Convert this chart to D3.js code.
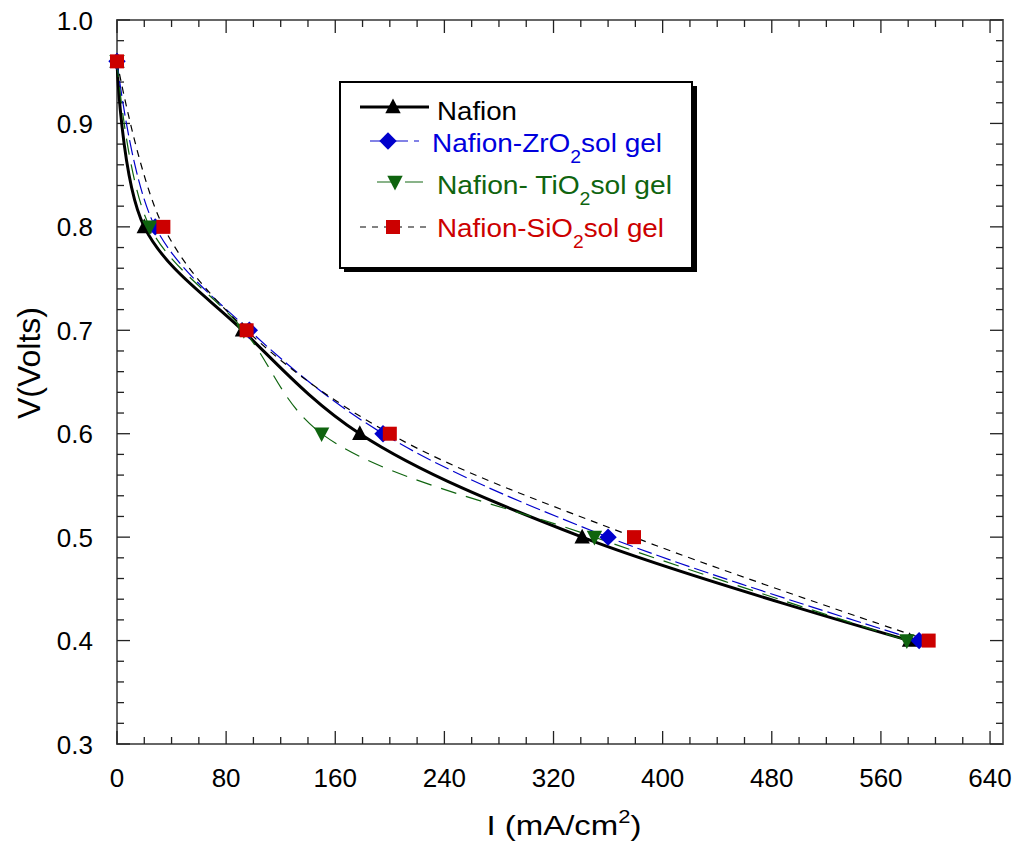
<!DOCTYPE html>
<html>
<head>
<meta charset="utf-8">
<script src="https://cdn.jsdelivr.net/npm/d3@7"></script>
<style>
  html, body { margin: 0; padding: 0; background: #fff; }
  svg { display: block; font-family: "Liberation Sans", Arial, sans-serif; }
</style>
</head>
<body>
<svg id="chart" width="1017" height="842"></svg>
<script>
// Polarization curves: cell voltage vs current density
const voltage = [0.96, 0.8, 0.7, 0.6, 0.5, 0.4];
const nafionI = [0, 20, 92, 178, 341, 581];
const zro2I   = [0, 28, 97, 195, 360, 588];
const tio2I   = [0, 24, 93, 150, 350, 579];
const sio2I   = [0, 34, 95, 200, 379, 595];

const xTicks = [0, 80, 160, 240, 320, 400, 480, 560, 640];
const yTicks = [0.3, 0.4, 0.5, 0.6, 0.7, 0.8, 0.9, 1.0];

const series = [
  { name: "Nafion", sub: null, I: nafionI, color: "#000000", text: "#000000",
    width: 3, dash: null, legendDash: null, marker: "triangle" },
  { name: "Nafion-ZrO", sub: "sol gel", I: zro2I, color: "#0000cc", text: "#0000dd",
    width: 1.2, dash: "15,5", legendDash: "16,6", marker: "diamond" },
  { name: "Nafion- TiO", sub: "sol gel", I: tio2I, color: "#0f640f", text: "#0f640f",
    width: 1.2, dash: "16,10", legendDash: "18,10", marker: "triangleDown" },
  { name: "Nafion-SiO", sub: "sol gel", I: sio2I, color: "#000000", text: "#cc0000",
    width: 1.2, dash: "7,6", legendDash: "6,6", marker: "square", markerColor: "#cc0000" }
];

const svg = d3.select("#chart");
const pLeft = 117, pRight = 1003, pTop = 20, pBottom = 744;

const x = d3.scaleLinear().domain([0, 649.5]).range([pLeft, pRight]);
const y = d3.scaleLinear().domain([0.3, 1.0]).range([pBottom, pTop]);

const axisColor = "#666";

// frame
svg.append("rect")
  .attr("x", pLeft).attr("y", pTop)
  .attr("width", pRight - pLeft).attr("height", pBottom - pTop)
  .attr("fill", "none").attr("stroke", axisColor).attr("stroke-width", 2);

// ticks (inward on all four sides)
const xMinor = d3.range(0, 641, 20);
const yMinor = d3.range(0, 36).map(i => +(0.3 + i * 0.02).toFixed(2));
const tickG = svg.append("g").attr("stroke", "#222").attr("stroke-width", 1.3);
xMinor.forEach(v => {
  const major = v % 80 === 0;
  const len = major ? 13 : 7;
  tickG.append("line").attr("x1", x(v)).attr("x2", x(v)).attr("y1", pBottom).attr("y2", pBottom - len);
  tickG.append("line").attr("x1", x(v)).attr("x2", x(v)).attr("y1", pTop).attr("y2", pTop + len);
});
yMinor.forEach(v => {
  const major = Math.abs(v * 10 - Math.round(v * 10)) < 1e-6;
  const len = major ? 13 : 7;
  tickG.append("line").attr("x1", pLeft).attr("x2", pLeft + len).attr("y1", y(v)).attr("y2", y(v));
  tickG.append("line").attr("x1", pRight).attr("x2", pRight - len).attr("y1", y(v)).attr("y2", y(v));
});

// tick labels
svg.append("g").selectAll("text").data(xTicks).join("text")
  .attr("x", d => x(d)).attr("y", 787)
  .attr("text-anchor", "middle").attr("font-size", 26).attr("fill", "#000")
  .text(d => d);
svg.append("g").selectAll("text").data(yTicks).join("text")
  .attr("x", 93).attr("y", d => y(d) + 9.5)
  .attr("text-anchor", "end").attr("font-size", 26).attr("fill", "#000")
  .text(d => d.toFixed(1));

// axis titles
const xt = svg.append("text")
  .attr("transform", "translate(564,835) scale(1.22,1)")
  .attr("text-anchor", "middle").attr("font-size", 27).attr("fill", "#000");
xt.append("tspan").text("I (mA/cm");
xt.append("tspan").attr("dy", -12).attr("font-size", 18).text("2");
xt.append("tspan").attr("dy", 12).text(")");

svg.append("text")
  .attr("transform", "translate(40,363) rotate(-90)")
  .attr("text-anchor", "middle").attr("font-size", 32).attr("fill", "#000")
  .text("V(Volts)");

// markers
function drawMarker(g, type, cx, cy, color, s) {
  if (type === "square") {
    g.append("rect").attr("x", cx - s / 2).attr("y", cy - s / 2)
      .attr("width", s).attr("height", s).attr("fill", color);
  } else if (type === "triangle") {
    const h = s;
    g.append("path").attr("d", `M${cx},${cy - h * 0.6}L${cx + s * 0.55},${cy + h * 0.45}L${cx - s * 0.55},${cy + h * 0.45}Z`).attr("fill", color);
  } else if (type === "triangleDown") {
    const h = s;
    g.append("path").attr("d", `M${cx},${cy + h * 0.6}L${cx + s * 0.55},${cy - h * 0.45}L${cx - s * 0.55},${cy - h * 0.45}Z`).attr("fill", color);
  } else if (type === "diamond") {
    const r = s * 0.62;
    g.append("path").attr("d", `M${cx},${cy - r}L${cx + r},${cy}L${cx},${cy + r}L${cx - r},${cy}Z`).attr("fill", color);
  }
}

const line = d3.line()
  .x(d => x(d[0])).y(d => y(d[1]))
  .curve(d3.curveCatmullRom.alpha(0.5));

const plot = svg.append("g");
series.forEach(s => {
  const pts = s.I.map((v, i) => [v, voltage[i]]);
  plot.append("path").datum(pts)
    .attr("d", line)
    .attr("fill", "none").attr("stroke", s.color)
    .attr("stroke-width", s.width)
    .attr("stroke-dasharray", s.dash);
});
series.forEach(s => {
  const g = plot.append("g");
  s.I.forEach((v, i) => drawMarker(g, s.marker, x(v), y(voltage[i]), s.markerColor || s.color, 14));
});

// legend
const lg = svg.append("g");
lg.append("rect").attr("x", 344).attr("y", 86).attr("width", 353).attr("height", 186).attr("fill", "#000");
lg.append("rect").attr("x", 340).attr("y", 82).attr("width", 352).attr("height", 186)
  .attr("fill", "#fff").attr("stroke", "#000").attr("stroke-width", 2);

const rows = [
  { yy: 107, x1: 360, x2: 429, mx: 393, tx: 437, base: 120, w: 80 },
  { yy: 141, x1: 370, x2: 419, mx: 388, tx: 432, base: 152, w: 230 },
  { yy: 182, x1: 377, x2: 427, mx: 395, tx: 437, base: 194, w: 235 },
  { yy: 227, x1: 360, x2: 430, mx: 393, tx: 437, base: 237, w: 227 }
];
series.forEach((s, i) => {
  const r = rows[i];
  lg.append("line").attr("x1", r.x1).attr("x2", r.x2).attr("y1", r.yy).attr("y2", r.yy)
    .attr("stroke", s.color).attr("stroke-width", i === 0 ? 3 : 1.3)
    .attr("stroke-dasharray", s.legendDash)
    .attr("stroke-opacity", i === 0 ? 1 : 0.65);
  drawMarker(lg, s.marker, r.mx, r.yy, s.markerColor || s.color, 14);
  const t = lg.append("text").attr("x", r.tx).attr("y", r.base)
    .attr("font-size", 26).attr("fill", s.text)
    .attr("textLength", r.w).attr("lengthAdjust", "spacingAndGlyphs");
  t.append("tspan").text(s.name);
  if (s.sub) {
    t.append("tspan").attr("dy", 11).attr("font-size", 18).text("2");
    t.append("tspan").attr("dy", -11).text(s.sub);
  }
});
</script>
</body>
</html>
